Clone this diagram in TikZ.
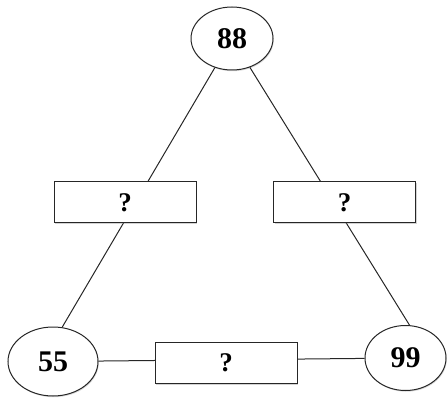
\documentclass[tikz,border=0pt]{standalone}
\usepackage{fontspec}
\setmainfont{Liberation Serif}
\usepackage{tikz}
\usetikzlibrary{shapes.geometric,shadows}
\begin{document}
\begin{tikzpicture}[x=1pt,y=-1pt,
    numnode/.style={draw, ellipse, fill=white, inner sep=0pt, line width=1pt, draw=black!85,
        drop shadow={shadow xshift=0.8pt, shadow yshift=-1.2pt, opacity=0.3},
        font=\fontsize{30}{34}\selectfont\bfseries},
    qbox/.style={draw, rectangle, fill=white, minimum width=142pt, minimum height=41pt, inner sep=0pt,
        line width=1pt, draw=black!85,
        drop shadow={shadow xshift=1pt, shadow yshift=-1.5pt, opacity=0.35},
        font=\fontsize{27}{30}\selectfont\bfseries},
    link/.style={line width=1pt, draw=black!85}]
            \useasboundingbox (0,0) rectangle (447,398);

            % Numbers
            \node[numnode, minimum width=82pt, minimum height=63pt] (top) at (232,38.5) {88};
            \node[numnode, minimum width=90pt, minimum height=69pt] (bottomleft) at (53,361.5) {55};
            \node[numnode, minimum width=81pt, minimum height=65pt] (bottomright) at (405.5,358) {99};

            % Lines
            \draw[link] (top) -- (bottomleft.75);
            \draw[link] (top) -- (bottomright.83);
            \draw[link] (bottomleft) -- (bottomright);

            % Question boxes
            \node[qbox] (qleft) at (125,202.5) {?};
            \node[qbox] (qright) at (344.5,202.5) {?};
            \node[qbox] (qbottom) at (226,363) {?};
        \end{tikzpicture}
\end{document}
